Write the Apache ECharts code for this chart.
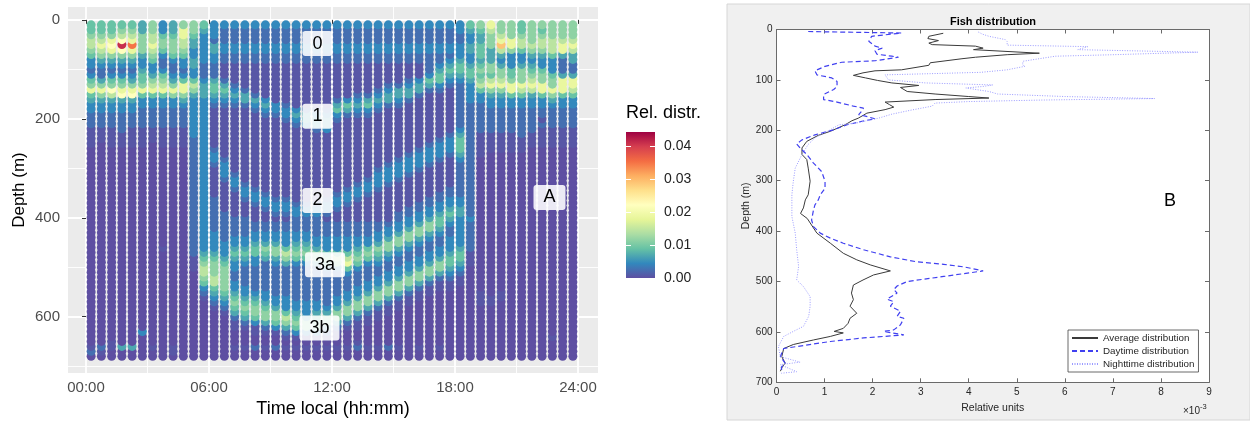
<!DOCTYPE html>
<html>
<head>
<meta charset="utf-8">
<script src="https://cdn.jsdelivr.net/npm/echarts@6/dist/echarts.min.js"></script>
<style>
  html, body { margin: 0; padding: 0; background: #fff; }
  #main { width: 1250px; height: 423px; }
</style>
</head>
<body>
<div id="main"></div>
<script>
// ---- panel A: relative distribution per half-hour profile ----
var hours = [0.25, 0.75, 1.25, 1.75, 2.25, 2.75, 3.25, 3.75, 4.25, 4.75, 5.25, 5.75,
  6.25, 6.75, 7.25, 7.75, 8.25, 8.75, 9.25, 9.75, 10.25, 10.75, 11.25, 11.75,
  12.25, 12.75, 13.25, 13.75, 14.25, 14.75, 15.25, 15.75, 16.25, 16.75, 17.25, 17.75,
  18.25, 18.75, 19.25, 19.75, 20.25, 20.75, 21.25, 21.75, 22.25, 22.75, 23.25, 23.75];
var depths = [10, 20, 30, 40, 50, 60, 70, 80, 90, 100, 110, 120, 130, 140, 150, 160, 170,
  180, 190, 200, 210, 220, 230, 240, 250, 260, 270, 280, 290, 300, 310, 320, 330, 340,
  350, 360, 370, 380, 390, 400, 410, 420, 430, 440, 450, 460, 470, 480, 490, 500, 510,
  520, 530, 540, 550, 560, 570, 580, 590, 600, 610, 620, 630, 640, 650, 660, 670, 680];
// one char per depth bin (10 m), groups of 100 m
var levelKeys = '0123456789abc';
var levelValues = [0, 0.0006, 0.0025, 0.0045, 0.0068, 0.009, 0.0115, 0.0145, 0.0185, 0.0222, 0.029, 0.035, 0.041];
var columnLevels = [
  '5567765332 3568543322 2111100000 0000000000 0000000000 0000000000 00000120',
  '5567876432 2468643322 2111000000 0000000000 0000000000 0000000000 00000210',
  '5568986432 3569743322 2111100000 0000000000 0000000000 0000000000 00001100',
  '5679c96432 3568943322 2211100000 0000000000 0000000000 0000000000 00000400',
  '5678b86432 3468943322 2111100000 0000000000 0000000000 0000000000 00000400',
  '4466664334 5568533222 2111100000 0000000000 0000000000 0000000000 00300000',
  '6677876533 4678533222 2111000000 0000000000 0000000000 0000000000 00000100',
  '3356653223 5678533222 2111100000 0000000000 0000010000 0000000000 00000000',
  '4456665322 3468633222 2111100000 0000000000 0000000000 0000000000 00000110',
  '6887765332 3588643222 2111100000 0000000000 0000000000 0000000000 00000000',
  '6654433443 3576433333 3332222222 2222222222 2222222111 0000000000 00000000',
  '5433333322 2344433333 3333333333 3333333333 3333334567 7653210000 00000000',
  '3332443322 2455432111 1111123321 1111122222 2233334566 6775432100 00000000',
  '3222332211 1245432111 1111111233 3211111122 2222333456 6666543210 00000000',
  '3222332211 1123432111 1111111111 2332111112 2223345433 2233456542 11000100',
  '3222332211 1112442111 1111111111 1123321112 2223345432 2223345654 21000100',
  '3222332211 1111243211 1111111111 1112332111 2233455332 2222345665 31100200',
  '3222332211 1111134321 1111111111 1111233211 2233465422 2222334566 42100100',
  '3222332211 1111113321 1111111111 1111123321 2233466432 2222233466 53100200',
  '3222332211 1111112332 1111111111 1111123321 2233357642 2222233357 64210100',
  '3222332211 1111111343 2111111111 1111112332 2233456532 2222223345 65310100',
  '3222332211 1111111244 3111111111 1111112332 2233456532 2222223334 66310100',
  '3222332211 1111111234 4211111111 1111112332 2223346642 2222223345 66310100',
  '3222332211 1111111234 4311111111 1111123321 2223335653 2222222346 64210100',
  '3222332211 1111124532 1111111111 1111233211 2223335763 2222233466 42100100',
  '3222332211 1111135421 1111111111 1112332111 2223335785 3222334664 21000100',
  '3222332211 1111234321 1111111111 1123321111 2223345653 2223346642 11001200',
  '3222332211 1111245321 1111111111 1233211111 2223356532 2233466421 10000100',
  '3222332211 1112343211 1111111112 3332111111 2233465432 2334664211 00000100',
  '3222332211 1123442111 1111111123 3321111111 2334664322 3346642110 00000200',
  '3222332211 1124432111 1111111233 3211111122 3346643223 3466421100 00000100',
  '3222332211 1234421111 1111112333 2111111223 3466432233 4664211000 00000000',
  '3222332211 1344211111 1111123332 1111112233 4664322334 6642110000 00000100',
  '3222332222 3542111111 1111233321 1111122334 6643223346 6421100000 00000000',
  '3222332234 5532111111 1112333211 1111223345 5432233466 4211000000 00000100',
  '3222332345 4321111111 1123332111 1112233454 3223334554 3211000000 00000000',
  '3322333455 4322222222 2345554322 2222233443 3333345543 2110000000 00000000',
  '5433443345 5433332222 2222222222 2222222223 2222221110 0000000000 00000000',
  '6544555456 5675332222 2211111000 0000000000 0000000000 0000111000 00000000',
  '8766644466 5786433222 2211110000 0000000000 0000000000 0000011000 00000000',
  '6678a74346 6786433222 2211110000 0000000000 0000000000 0000110000 00000000',
  '6668863335 5688533222 2211110000 0000000000 0000000000 0000000000 00000000',
  '5567753346 6687533222 2221110000 0000000000 0000000000 0000000000 00000000',
  '6666764345 6787433222 2211100000 0000000000 0000000000 0000000000 00000000',
  '6567764335 6688533221 2111100000 0000000000 0000000000 0000000000 00000000',
  '6667775333 5668643222 2111100000 0000000000 0000000000 0000000000 00010000',
  '6667884222 4888533222 2111100000 0000000000 0000000000 0000000000 00000000',
  '6667874422 4887533222 2111100000 0000000000 0000000000 0000000000 00000000'
];
var timeTicks = [0, 6, 12, 18, 24];
var timeTickLabels = ['00:00', '06:00', '12:00', '18:00', '24:00'];
var timeMinor = [3, 9, 15, 21];
var depthTicks = [0, 200, 400, 600];
var depthMinor = [100, 300, 500, 700];
var distrTicks = [0, 0.01, 0.02, 0.03, 0.04];
var distrMax = 0.0443;
var spectral = ['#5E4FA2', '#3288BD', '#66C2A5', '#ABDDA4', '#E6F598', '#FFFFBF',
  '#FEE08B', '#FDAE61', '#F46D43', '#D53E4F', '#9E0142'];

var layerNames = ['0', '1', '2', '3a', '3b', 'A'];
var layerHours = [11.29, 11.29, 11.29, 11.66, 11.39, 22.61];
var layerDepths = [48, 195, 365, 495, 623, 359];

// ---- panel B: fish distribution profiles (x 1e-3) ----
var avgDepth = [7.5, 13.5, 18, 22, 27, 30, 33, 37, 40, 47, 50, 55, 58, 66, 71, 80, 82, 86, 91, 96,
  101, 106, 111, 115, 123, 128, 133, 136, 139, 144, 149, 154, 159, 166, 170, 176, 181, 189, 202,
  210, 222, 235, 248, 258, 275, 301, 328, 338, 354, 365, 375, 404, 424, 444, 457, 467, 479, 487,
  497, 507, 523, 536, 549, 563, 573, 583, 593, 599, 602, 609, 616, 625, 633, 649, 662, 670, 678];
var avgValue = [3.47, 3.17, 3.15, 3.37, 3.17, 3.24, 4.14, 4.3, 4.1, 5.47, 4.8, 4.14, 3.86, 3.2, 3.17,
  2.6, 2.05, 1.8, 1.6, 1.85, 2.1, 2.4, 2.96, 2.58, 2.72, 3.3, 4.0, 4.42, 3.3, 2.26, 2.35, 2.44, 2.26,
  1.88, 1.81, 1.7, 1.57, 1.43, 1.12, 0.87, 0.63, 0.53, 0.53, 0.63, 0.66, 0.7, 0.66, 0.6, 0.56, 0.5,
  0.64, 0.84, 1.12, 1.39, 1.67, 1.95, 2.37, 2.02, 1.8, 1.6, 1.56, 1.6, 1.53, 1.67, 1.53, 1.49, 1.39,
  1.2, 1.39, 1.12, 0.77, 0.35, 0.15, 0.11, 0.18, 0.12, 0.08];
var dayDepth = [4, 7, 13.5, 23.5, 33, 37, 42, 49, 53, 55, 62, 65, 73, 82, 90, 96, 103, 113, 119, 129,
  139, 144, 152, 156, 161, 169, 172, 177, 182, 189, 199, 209, 219, 227, 235, 248, 265, 282, 301,
  315, 328, 338, 348, 358, 378, 391, 404, 414, 424, 437, 451, 461, 466, 471, 479, 490, 500, 509,
  516, 523, 535, 540, 549, 559, 569, 573, 586, 596, 599, 606, 612, 619, 629, 633, 649, 662, 670, 678];
var dayValue = [0.66, 2.6, 1.98, 1.92, 2.05, 2.2, 2.05, 2.09, 2.4, 2.54, 2.05, 1.36, 1.01, 0.8, 0.84,
  1.15, 1.26, 1.26, 1.19, 0.98, 0.98, 1.26, 1.6, 1.81, 1.78, 1.71, 1.85, 2.05, 1.78, 1.47, 1.19, 0.8,
  0.53, 0.42, 0.49, 0.63, 0.77, 0.94, 1.01, 1.01, 0.91, 0.87, 0.8, 0.77, 0.73, 0.77, 0.91, 1.12, 1.39,
  1.81, 2.37, 2.92, 3.48, 3.9, 4.3, 3.48, 2.72, 2.51, 2.44, 2.51, 2.3, 2.44, 2.37, 2.58, 2.51, 2.65,
  2.58, 2.44, 2.23, 2.65, 1.81, 1.12, 0.42, 0.15, 0.08, 0.18, 0.1, 0.11];
var nightDepth = [5, 9, 13.5, 20, 24, 31, 34, 40, 45, 47, 50, 53, 63, 70, 73, 76, 80, 85, 90, 100, 106,
  110, 113, 116, 123, 128, 133, 137, 140, 143, 146, 152, 160, 168, 176, 186, 189, 200, 215, 228,
  248, 275, 301, 328, 354, 371, 404, 437, 470, 497, 510, 530, 549, 569, 589, 599, 609, 629, 649,
  660, 665, 679, 682];
var nightValue = [4.2, 4.28, 4.42, 4.76, 4.8, 4.8, 6.48, 6.27, 8.77, 8.8, 7.02, 5.8, 5.13, 5.12, 5.17,
  5.2, 4.8, 4.25, 2.26, 2.33, 3.1, 4.5, 4.3, 3.94, 4.42, 4.6, 6.0, 7.87, 5.5, 4.0, 3.3, 3.24, 2.8, 2.4,
  2.12, 1.64, 1.3, 1.1, 0.8, 0.66, 0.53, 0.39, 0.35, 0.32, 0.32, 0.32, 0.39, 0.42, 0.46, 0.42, 0.56,
  0.7, 0.7, 0.67, 0.56, 0.35, 0.15, 0.04, 0.08, 0.49, 0.08, 0.42, 0.1];
var profileNames = ['Average distribution', 'Daytime distribution', 'Nighttime distribution'];

var heatData = [];
hours.forEach(function (h, i) {
  var codes = columnLevels[i].replace(/ /g, '');
  // deeper dots first, shallower ones drawn on top
  for (var k = depths.length - 1; k >= 0; k--) {
    var v = levelValues[levelKeys.indexOf(codes[k])];
    heatData.push([h, depths[k], v || 0]);
  }
});

function pairs(xs, ys) {
  return ys.map(function (d, i) { return [xs[i], d]; });
}

var font = 'Liberation Sans, Arial, sans-serif';
var myChart = echarts.init(document.getElementById('main'));
var stops = spectral.map(function (c, i) { return { offset: i / 10, color: c }; });

var option = {
  animation: false,
  textStyle: { fontFamily: font },
  title: [
    { text: 'Rel. distr.', left: 626, top: 104, padding: 0,
      textStyle: { fontSize: 18, fontWeight: 'normal', color: '#000', fontFamily: font } },
    { text: 'Fish distribution', left: 993, top: 16, padding: 0, textAlign: 'center',
      textStyle: { fontSize: 11, fontWeight: 'bold', color: '#000', fontFamily: font } },
    { text: 'B', left: 1164, top: 192, padding: 0,
      textStyle: { fontSize: 18, fontWeight: 'normal', color: '#000', fontFamily: font } },
    { text: '{a|\u00d710}{b|-3}', left: 1183, top: 400, padding: 0,
      textStyle: { fontWeight: 'normal', rich: {
        a: { fontSize: 10, fontWeight: 'normal', color: '#262626', fontFamily: font, padding: [6, 0, 0, 0] },
        b: { fontSize: 7.5, fontWeight: 'normal', color: '#262626', fontFamily: font, padding: [0, 0, 2, 0] }
      } } }
  ],
  graphic: [
    { type: 'rect', z: -10, shape: { x: 727, y: 4, width: 523, height: 416 },
      style: { fill: '#F0F0F0', stroke: '#D6D6D6', lineWidth: 1 } }
  ],
  legend: {
    data: profileNames,
    left: 1068, top: 330, orient: 'vertical',
    padding: [3, 4, 3, 3], itemGap: 3, itemWidth: 26, itemHeight: 10,
    itemStyle: { color: 'rgba(0,0,0,0)', borderColor: 'rgba(0,0,0,0)', borderWidth: 0 },
    backgroundColor: '#fff', borderColor: '#444', borderWidth: 0.8, borderRadius: 0,
    textStyle: { fontSize: 9.8, color: '#262626', fontFamily: font }
  },
  visualMap: {
    type: 'continuous', show: false, seriesIndex: 0, dimension: 2,
    min: 0, max: distrMax, inRange: { color: spectral }
  },
  grid: [
    { left: 68, top: 7, width: 530, height: 370, show: true, backgroundColor: '#EBEBEB', borderWidth: 0 },
    { left: 626, top: 132, width: 29, height: 146, show: false },
    { left: 776.5, top: 29.5, width: 432.5, height: 352.8, show: true, backgroundColor: '#fff', borderWidth: 0 }
  ],
  xAxis: [
    { type: 'value', gridIndex: 0, min: -0.878, max: 24.976,
      name: 'Time local (hh:mm)', nameLocation: 'middle', nameGap: 26,
      nameTextStyle: { fontSize: 18, color: '#000' },
      axisLine: { show: false },
      axisTick: { show: true, length: 4, customValues: timeTicks, lineStyle: { color: '#333', width: 1 } },
      axisLabel: { customValues: timeTicks, margin: 7, fontSize: 15, color: '#4D4D4D',
        formatter: function (v) { return timeTickLabels[timeTicks.indexOf(v)]; } },
      splitLine: { show: true, lineStyle: { color: '#fff', width: 1.8 } } },
    { type: 'value', gridIndex: 0, min: -0.878, max: 24.976, position: 'top',
      axisLine: { show: false }, axisLabel: { show: false },
      axisTick: { show: false, customValues: timeMinor },
      splitLine: { show: true, lineStyle: { color: '#fff', width: 0.9 } } },
    { type: 'category', gridIndex: 1, data: ['bar'], show: false },
    { type: 'value', gridIndex: 2, min: 0, max: 9, interval: 1, position: 'bottom',
      name: 'Relative units', nameLocation: 'middle', nameGap: 20,
      nameTextStyle: { fontSize: 10.5, color: '#262626' },
      axisLine: { show: true, onZero: false, lineStyle: { color: '#6A6A6A', width: 1 } },
      axisTick: { inside: true, length: 4, lineStyle: { color: '#6A6A6A' } },
      axisLabel: { margin: 5, fontSize: 10, color: '#262626' },
      splitLine: { show: false } },
    { type: 'value', gridIndex: 2, min: 0, max: 9, interval: 1, position: 'top',
      axisLine: { show: true, onZero: false, lineStyle: { color: '#6A6A6A', width: 1 } },
      axisTick: { inside: true, length: 4, lineStyle: { color: '#6A6A6A' } },
      axisLabel: { show: false }, splitLine: { show: false } }
  ],
  yAxis: [
    { type: 'value', gridIndex: 0, inverse: true, min: -26, max: 714,
      name: 'Depth (m)', nameLocation: 'middle', nameGap: 40, nameRotate: 90,
      nameTextStyle: { fontSize: 17, color: '#000' },
      axisLine: { show: false },
      axisTick: { show: true, length: 4, customValues: depthTicks, lineStyle: { color: '#333', width: 1 } },
      axisLabel: { customValues: depthTicks, margin: 8, fontSize: 15, color: '#4D4D4D' },
      splitLine: { show: true, lineStyle: { color: '#fff', width: 1.8 } } },
    { type: 'value', gridIndex: 0, inverse: true, min: -26, max: 714, position: 'right',
      axisLine: { show: false }, axisLabel: { show: false },
      axisTick: { show: false, customValues: depthMinor },
      splitLine: { show: true, lineStyle: { color: '#fff', width: 0.9 } } },
    { type: 'value', gridIndex: 1, min: 0, max: distrMax, position: 'right', z: 5,
      axisLine: { show: false },
      axisTick: { show: true, inside: true, length: 5, customValues: distrTicks, lineStyle: { color: '#fff', width: 1 } },
      axisLabel: { customValues: distrTicks, margin: 9, fontSize: 14, color: '#222',
        formatter: function (v) { return v.toFixed(2); } },
      splitLine: { show: false } },
    { type: 'value', gridIndex: 1, min: 0, max: distrMax, position: 'left', z: 5,
      axisLine: { show: false },
      axisTick: { show: true, inside: true, length: 5, customValues: distrTicks, lineStyle: { color: '#fff', width: 1 } },
      axisLabel: { show: false }, splitLine: { show: false } },
    { type: 'value', gridIndex: 2, inverse: true, min: 0, max: 700, interval: 100, position: 'left',
      name: 'Depth (m)', nameLocation: 'middle', nameGap: 24, nameRotate: 90,
      nameTextStyle: { fontSize: 10.5, color: '#262626' },
      axisLine: { show: true, onZero: false, lineStyle: { color: '#6A6A6A', width: 1 } },
      axisTick: { inside: true, length: 4, lineStyle: { color: '#6A6A6A' } },
      axisLabel: { margin: 4, fontSize: 10, color: '#262626' },
      splitLine: { show: false } },
    { type: 'value', gridIndex: 2, inverse: true, min: 0, max: 700, interval: 100, position: 'right',
      axisLine: { show: true, onZero: false, lineStyle: { color: '#6A6A6A', width: 1 } },
      axisTick: { inside: true, length: 4, lineStyle: { color: '#6A6A6A' } },
      axisLabel: { show: false }, splitLine: { show: false } }
  ],
  series: [
    { type: 'scatter', xAxisIndex: 0, yAxisIndex: 0, data: heatData,
      symbolSize: 9, progressive: 0, silent: true, itemStyle: { opacity: 1 } },
    { type: 'scatter', xAxisIndex: 0, yAxisIndex: 0, silent: true, z: 5,
      data: layerNames.map(function (n, i) { return { name: n, value: [layerHours[i], layerDepths[i]] }; }),
      symbolSize: 1, itemStyle: { color: 'rgba(0,0,0,0)' },
      label: { show: true, position: 'inside', formatter: '{b}', fontSize: 18, color: '#000', opacity: 1,
        fontFamily: font, backgroundColor: 'rgba(255,255,255,0.88)', padding: [4, 10, 3, 10], borderRadius: 3 } },
    { type: 'bar', xAxisIndex: 2, yAxisIndex: 2, data: [distrMax], barWidth: '100%', silent: true,
      itemStyle: { color: new echarts.graphic.LinearGradient(0, 1, 0, 0, stops) } },
    { type: 'line', name: profileNames[0], xAxisIndex: 3, yAxisIndex: 4, data: pairs(avgValue, avgDepth),
      symbol: 'none', color: '#3A3A3A', lineStyle: { color: '#3A3A3A', width: 1 } },
    { type: 'line', name: profileNames[1], xAxisIndex: 3, yAxisIndex: 4, data: pairs(dayValue, dayDepth),
      symbol: 'none', color: '#4040F0', lineStyle: { color: '#4040F0', width: 1.2, type: [5, 3] } },
    { type: 'line', name: profileNames[2], xAxisIndex: 3, yAxisIndex: 4, data: pairs(nightValue, nightDepth),
      symbol: 'none', color: '#9A9AFF', lineStyle: { color: '#9A9AFF', width: 1, type: [1, 1.5] } }
  ]
};

option && myChart.setOption(option);
</script>
</body>
</html>
